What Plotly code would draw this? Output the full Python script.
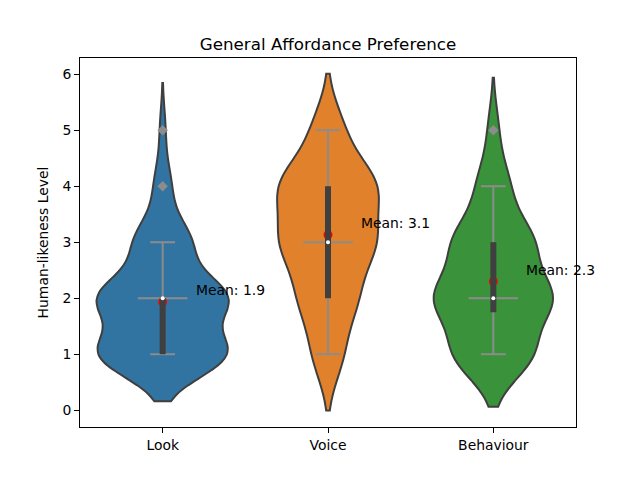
import numpy as np
import plotly.graph_objects as go

# ratings per category (counts of each level)
categories = ['Look', 'Voice', 'Behaviour']
levels = [1, 2, 3, 4, 5]
look_counts = [23, 23, 10, 3, 1]
voice_counts = [6, 11, 18, 19, 6]
behaviour_counts = [15, 22, 15, 6, 2]

colors = ['#3274a1', '#e1812c', '#3a923a']
edge = '#3f3f3f'
grey = '#8c8c8c'

samples = [np.repeat(levels, c).astype(float)
           for c in (look_counts, voice_counts, behaviour_counts)]


# scott 규칙 bandwidth (seaborn 기본값)
def scott_bw(y):
    return y.std(ddof=1) * len(y) ** (-1 / 5)


def kde_peak(y, bw):
    grid = np.linspace(y.min() - 2 * bw, y.max() + 2 * bw, 400)
    dens = np.exp(-0.5 * ((grid[:, None] - y[None, :]) / bw) ** 2).sum(axis=1)
    return dens.max() / (len(y) * bw)


bws = [scott_bw(y) for y in samples]
peaks = [kde_peak(y, bw) for y, bw in zip(samples, bws)]
widths = [0.8 * p / max(peaks) for p in peaks]  # scale='area'

fig = go.Figure()

# 1. violins
for i, y in enumerate(samples):
    fig.add_trace(go.Violin(
        x0=i, y=y, width=widths[i], bandwidth=bws[i], spanmode='soft',
        fillcolor=colors[i], line=dict(color=edge, width=2), opacity=1,
        points=False, box_visible=False, meanline_visible=False,
        scalemode='width', hoverinfo='skip'))

# 2. grey boxplot (whiskers, caps, median, fliers) + mean + inner box
for i, y in enumerate(samples):
    q1, med, q3 = np.percentile(y, [25, 50, 75])
    iqr = q3 - q1
    lo = y[y >= q1 - 1.5 * iqr].min()
    hi = y[y <= q3 + 1.5 * iqr].max()
    fliers = np.unique(y[(y < lo) | (y > hi)])
    mean = y.mean()

    xs = [i, i, None, i, i, None,
          i - 0.075, i + 0.075, None, i - 0.075, i + 0.075, None,
          i - 0.15, i + 0.15]
    ys = [lo, q1, None, q3, hi, None,
          lo, lo, None, hi, hi, None,
          med, med]
    fig.add_trace(go.Scatter(x=xs, y=ys, mode='lines',
                             line=dict(color=grey, width=2), hoverinfo='skip'))
    if len(fliers):
        fig.add_trace(go.Scatter(x=[i] * len(fliers), y=fliers, mode='markers',
                                 marker=dict(symbol='diamond', size=8, color=grey),
                                 hoverinfo='skip'))

    fig.add_trace(go.Scatter(x=[i], y=[mean], mode='markers',
                             marker=dict(color='red', size=9), hoverinfo='skip'))

    fig.add_trace(go.Scatter(x=[i, i], y=[q1, q3], mode='lines',
                             line=dict(color=edge, width=6), hoverinfo='skip'))
    fig.add_trace(go.Scatter(x=[i], y=[med], mode='markers',
                             marker=dict(color='white', size=4), hoverinfo='skip'))

    fig.add_annotation(x=i + 0.2, y=mean + 0.1, text=f"Mean: {mean:.1f}",
                       showarrow=False, xanchor='left', yanchor='bottom',
                       yshift=-4, xshift=-2, font=dict(size=13.9, color='black'))

axis_style = dict(showline=True, mirror=True, linecolor='black', linewidth=1,
                  ticks='outside', ticklen=5, tickcolor='black',
                  showgrid=False, zeroline=False)

# page body has an 8px margin, so the figure is shrunk and shifted to fit
fig.update_layout(
    width=632, height=472,
    margin=dict(l=72, r=64, t=50, b=53),
    plot_bgcolor='white', paper_bgcolor='white',
    showlegend=False, violinmode='overlay',
    font=dict(family='DejaVu Sans', size=13.9, color='black'),
    title=dict(text='General Affordance Preference', x=0.5, xref='paper',
               y=1 - 36 / 472, yref='container', yanchor='middle',
               font=dict(size=16.7)),
    xaxis=dict(range=[-0.5, 2.5], tickvals=[0, 1, 2], ticktext=categories,
               **axis_style),
    yaxis=dict(range=[-0.3, 6.29], dtick=1,
               title=dict(text='Human-likeness Level', standoff=10,
                          font=dict(size=13.9)),
               **axis_style),
)

fig.write_html("out.html")
